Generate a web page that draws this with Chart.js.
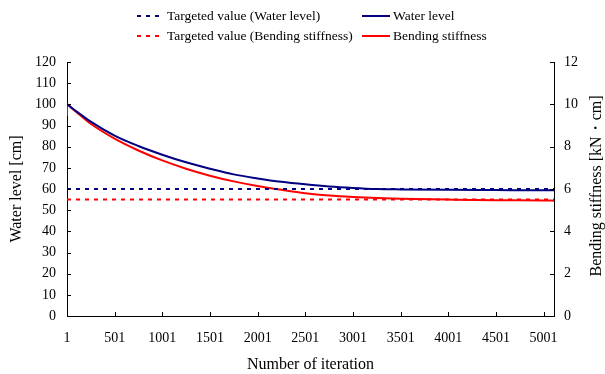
<!DOCTYPE html>
<html>
<head>
<meta charset="utf-8">
<script src="https://cdn.jsdelivr.net/npm/chart.js@4.4.1/dist/chart.umd.min.js"></script>
<style>
  html, body { margin: 0; padding: 0; background: #fff; }
  #wrap { width: 605px; height: 374px; position: relative; }
</style>
</head>
<body>
<div id="wrap"><canvas id="chart"></canvas></div>
<script>
const iterations = [1, 2, 60, 130, 250, 500, 750, 1000, 1250, 1500, 1750, 2000, 2250, 2500, 2750, 3000, 3250, 3500, 4000, 4500, 5000, 5110];
// water level [cm] (left axis)
const waterLevel = [100, 99.97, 98.0, 95.7, 91.8, 85.2, 80.3, 76.2, 72.6, 69.6, 66.9, 65.0, 63.4, 62.2, 61.2, 60.5, 60.0, 59.8, 59.6, 59.5, 59.4, 59.4];
// bending stiffness [kN・cm] (right axis)
const bendingStiffness = [9.45, 10.0, 9.78, 9.52, 9.08, 8.38, 7.82, 7.35, 6.96, 6.63, 6.36, 6.14, 5.96, 5.80, 5.69, 5.62, 5.57, 5.54, 5.50, 5.47, 5.46, 5.45];

const targetWater = 60;
const targetStiffness = 5.5;
const xRange = [1, 5110];

const xTicks = [1, 501, 1001, 1501, 2001, 2501, 3001, 3501, 4001, 4501, 5001];
const leftTicks = [0, 10, 20, 30, 40, 50, 60, 70, 80, 90, 100, 110, 120];
const rightTicks = [0, 2, 4, 6, 8, 10, 12];

const legendItems = [
  { text: 'Targeted value (Water level)', color: '#000080', dash: true },
  { text: 'Water level', color: '#000080', dash: false },
  { text: 'Targeted value (Bending stiffness)', color: '#ff0000', dash: true },
  { text: 'Bending stiffness', color: '#ff0000', dash: false }
];

const SERIF = '"Liberation Serif", "Times New Roman", serif';
const NAVY = '#000080';
const RED = '#ff0000';

const pts = (xs, ys) => xs.map((x, i) => ({ x: x, y: ys[i] }));

// inward tick marks, axis titles and the two-column legend
const decor = {
  id: 'decor',
  afterDraw(chart) {
    const ctx = chart.ctx;
    const a = chart.chartArea;
    const sx = chart.scales.x, sy = chart.scales.y, sy1 = chart.scales.y1;
    ctx.save();
    ctx.strokeStyle = '#000';
    ctx.lineWidth = 1;
    ctx.beginPath();
    xTicks.forEach(v => {
      const p = Math.round(sx.getPixelForValue(v)) + 0.5;
      ctx.moveTo(p, a.bottom); ctx.lineTo(p, a.bottom - 4);
    });
    leftTicks.forEach(v => {
      const p = Math.round(sy.getPixelForValue(v)) + 0.5;
      ctx.moveTo(a.left, p); ctx.lineTo(a.left + 4, p);
    });
    rightTicks.forEach(v => {
      const p = Math.round(sy1.getPixelForValue(v)) + 0.5;
      ctx.moveTo(a.right, p); ctx.lineTo(a.right - 4, p);
    });
    ctx.stroke();

    // axis titles
    ctx.fillStyle = '#000';
    ctx.textAlign = 'center';
    ctx.textBaseline = 'middle';
    ctx.font = '16px ' + SERIF;
    ctx.fillText('Number of iteration', (a.left + a.right) / 2, 365);
    ctx.save();
    ctx.translate(17, 189);
    ctx.rotate(-Math.PI / 2);
    ctx.fillText('Water level [cm]', 0, 0);
    ctx.restore();
    ctx.save();
    ctx.translate(597, 186);
    ctx.rotate(-Math.PI / 2);
    ctx.fillText('Bending stiffness [kN・cm]', 0, 0);
    ctx.restore();

    // legend
    ctx.font = '13.5px ' + SERIF;
    ctx.textAlign = 'left';
    const cols = [{ x0: 137, x1: 161, tx: 167 }, { x0: 362, x1: 390, tx: 393 }];
    const rows = [16, 36];
    legendItems.forEach((it, i) => {
      const c = cols[i % 2], y = rows[Math.floor(i / 2)];
      ctx.strokeStyle = it.color;
      ctx.lineWidth = 2;
      ctx.setLineDash(it.dash ? [4, 5] : []);
      ctx.beginPath();
      ctx.moveTo(c.x0, y); ctx.lineTo(c.x1, y);
      ctx.stroke();
      ctx.setLineDash([]);
      ctx.fillStyle = '#000';
      ctx.fillText(it.text, c.tx, y);
    });
    ctx.restore();
  }
};

const tickFont = { family: SERIF, size: 14 };
const plain = v => String(v);

new Chart(document.getElementById('chart'), {
  type: 'line',
  data: {
    datasets: [
      {
        label: 'Targeted value (Water level)',
        data: pts(xRange, [targetWater, targetWater]),
        yAxisID: 'y',
        borderColor: NAVY, borderWidth: 2, borderDash: [4, 5],
        pointRadius: 0
      },
      {
        label: 'Targeted value (Bending stiffness)',
        data: pts(xRange, [targetStiffness, targetStiffness]),
        yAxisID: 'y1',
        borderColor: RED, borderWidth: 2, borderDash: [4, 5],
        pointRadius: 0
      },
      {
        label: 'Water level',
        data: pts(iterations, waterLevel),
        yAxisID: 'y',
        borderColor: NAVY, borderWidth: 2,
        pointRadius: 0, cubicInterpolationMode: 'monotone'
      },
      {
        label: 'Bending stiffness',
        data: pts(iterations, bendingStiffness),
        yAxisID: 'y1',
        borderColor: RED, borderWidth: 2,
        pointRadius: 0, cubicInterpolationMode: 'monotone'
      }
    ]
  },
  options: {
    responsive: true,
    maintainAspectRatio: false,
    animation: false,
    layout: { padding: { top: 62, left: 0, right: 0, bottom: 0 } },
    plugins: { legend: { display: false }, tooltip: { enabled: false } },
    scales: {
      x: {
        type: 'linear',
        min: xRange[0], max: xRange[1],
        grid: { display: false, drawTicks: false },
        border: { display: true, color: '#000', width: 1 },
        afterBuildTicks: s => { s.ticks = xTicks.map(v => ({ value: v })); },
        afterFit: s => { s.height = 58; },
        ticks: { font: tickFont, color: '#000', padding: 14, maxRotation: 0, autoSkip: false, callback: plain }
      },
      y: {
        position: 'left',
        min: 0, max: 120,
        grid: { display: false, drawTicks: false },
        border: { display: true, color: '#000', width: 1 },
        afterBuildTicks: s => { s.ticks = leftTicks.map(v => ({ value: v })); },
        afterFit: s => { s.width = 67; },
        ticks: { font: tickFont, color: '#000', padding: 11, callback: plain }
      },
      y1: {
        position: 'right',
        min: 0, max: 12,
        grid: { display: false, drawTicks: false },
        border: { display: true, color: '#000', width: 1 },
        afterBuildTicks: s => { s.ticks = rightTicks.map(v => ({ value: v })); },
        afterFit: s => { s.width = 51; },
        ticks: { font: tickFont, color: '#000', padding: 10, callback: plain }
      }
    }
  },
  plugins: [decor]
});
</script>
</body>
</html>
